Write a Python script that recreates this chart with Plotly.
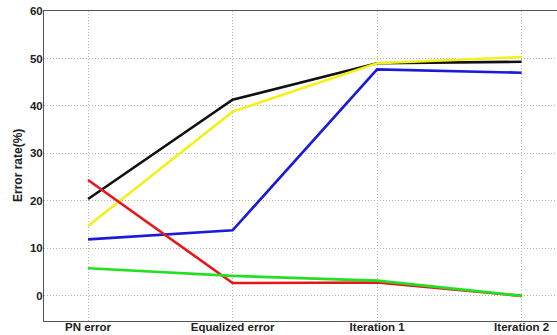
import plotly.graph_objects as go

stages = ["PN error", "Equalized error", "Iteration 1", "Iteration 2"]

blue_rate = [11.9, 13.8, 47.7, 47.0]
black_rate = [20.4, 41.3, 49.0, 49.3]
yellow_rate = [14.7, 38.8, 49.0, 50.3]
red_rate = [24.4, 2.7, 2.8, 0.0]
green_rate = [5.8, 4.2, 3.2, 0.0]

series = [
    (blue_rate, "#1a1ad8"),
    (black_rate, "#111111"),
    (yellow_rate, "#f2f21a"),
    (red_rate, "#e8161a"),
    (green_rate, "#22e022"),
]

xpos = list(range(len(stages)))

fig = go.Figure()
for vals, col in series:
    fig.add_trace(go.Scatter(
        x=xpos, y=vals, mode="lines",
        line=dict(color=col, width=2.6),
        showlegend=False, hoverinfo="skip",
    ))

fnt = dict(family="Liberation Sans, Arial, sans-serif", size=11.5, color="#222222")

fig.update_layout(
    width=557, height=335,
    margin=dict(l=44, r=0, t=11, b=14),
    paper_bgcolor="white", plot_bgcolor="white",
    font=fnt,
    xaxis=dict(
        range=[-0.305, 3.245],
        tickmode="array", tickvals=xpos,
        ticktext=[f"<b>{s}</b>" for s in stages],
        showgrid=True, gridcolor="#b4b4b4", griddash="1px,2px", gridwidth=1,
        showline=True, linecolor="#555555", linewidth=1, mirror=True,
        ticks="", zeroline=False, automargin=False,
        tickfont=fnt, ticklabelstandoff=-5,
    ),
    yaxis=dict(
        range=[-5.3, 60],
        tickmode="array", tickvals=[0, 10, 20, 30, 40, 50, 60],
        ticktext=[f"<b>{v}</b>" for v in [0, 10, 20, 30, 40, 50, 60]],
        showgrid=True, gridcolor="#b4b4b4", griddash="1px,2px", gridwidth=1,
        showline=True, linecolor="#555555", linewidth=1,
        ticks="", zeroline=False, automargin=False,
        tickfont=fnt, ticklabelstandoff=-2,
    ),
    annotations=[dict(
        text="<b>Error rate(%)</b>", textangle=-90,
        xref="paper", yref="paper", x=(18 - 44) / 513, y=0.5,
        xanchor="center", yanchor="middle", showarrow=False,
        font=dict(family="Liberation Sans, Arial, sans-serif", size=12, color="#222222"),
    )],
)

fig.write_html("out.html")
